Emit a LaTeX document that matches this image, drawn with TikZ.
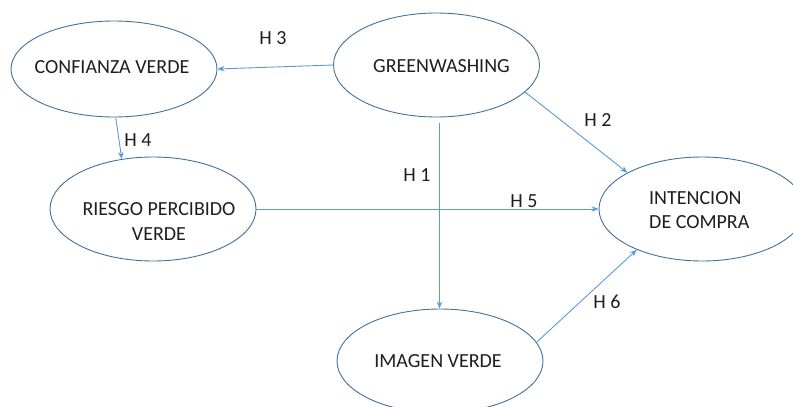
\documentclass[tikz,border=0pt]{standalone}
\usepackage{fontspec}
\setmainfont{Carlito}
\usetikzlibrary{shapes.geometric,arrows.meta,calc}
\definecolor{ovalblue}{RGB}{65,113,156}
\definecolor{linkblue}{RGB}{91,155,213}
\definecolor{txtgray}{RGB}{30,30,30}
\begin{document}
\begin{tikzpicture}[x=1pt,y=-1pt,
  oval/.style={ellipse,draw=ovalblue,line width=0.9pt,minimum width=206pt,minimum height=104pt,inner sep=0pt},
  txt/.style={font=\fontsize{20}{24.5}\selectfont,text=txtgray,inner sep=0pt},
  conn/.style={draw=linkblue,line width=0.9pt,-{Stealth[length=7pt,width=5.5pt]}}]
\useasboundingbox (0,0) rectangle (793,407);
\begin{scope}
\clip (0,0) rectangle (793,407);
\node[oval,minimum height=96pt] (conf) at (114,69) {};
\node[oval] (green) at (436.5,65) {};
\node[oval] (ries) at (153,209) {};
\node[oval] (int) at (702,209) {};
\node[oval] (img) at (440,361) {};
\end{scope}
\node[txt] (tconf) at (112,67) {CONFIANZA VERDE};
\node[txt] (tgreen) at (441.5,66) {GREENWASHING};
\node[txt,align=center] (tries) at (159,221.5) {RIESGO PERCIBIDO\\VERDE};
\node[txt,align=left,anchor=west] (tint) at (649,210) {INTENCION\\DE COMPRA};
\node[txt] (timg) at (438,361) {IMAGEN VERDE};
\draw[conn] (green.west) -- (conf.east);
\draw[conn] (conf.272) -- (ries.122);
\draw[conn] ($(green.south)+(3,6)$) -- (img.north -| {$(green.south)+(3,6)$});
\draw[conn] (ries.east) -- (int.west);
\draw[conn] (green.-17) -- (int.154);
\draw[conn] (img.11) -- (int.212);
\node[txt] (h3) at (273,38) {H 3};
\node[txt] (h4) at (138,140) {H 4};
\node[txt] (h1) at (417,175) {H 1};
\node[txt] (h5) at (524,201) {H 5};
\node[txt] (h2) at (598,120) {H 2};
\node[txt] (h6) at (607,302) {H 6};
\end{tikzpicture}
\end{document}
